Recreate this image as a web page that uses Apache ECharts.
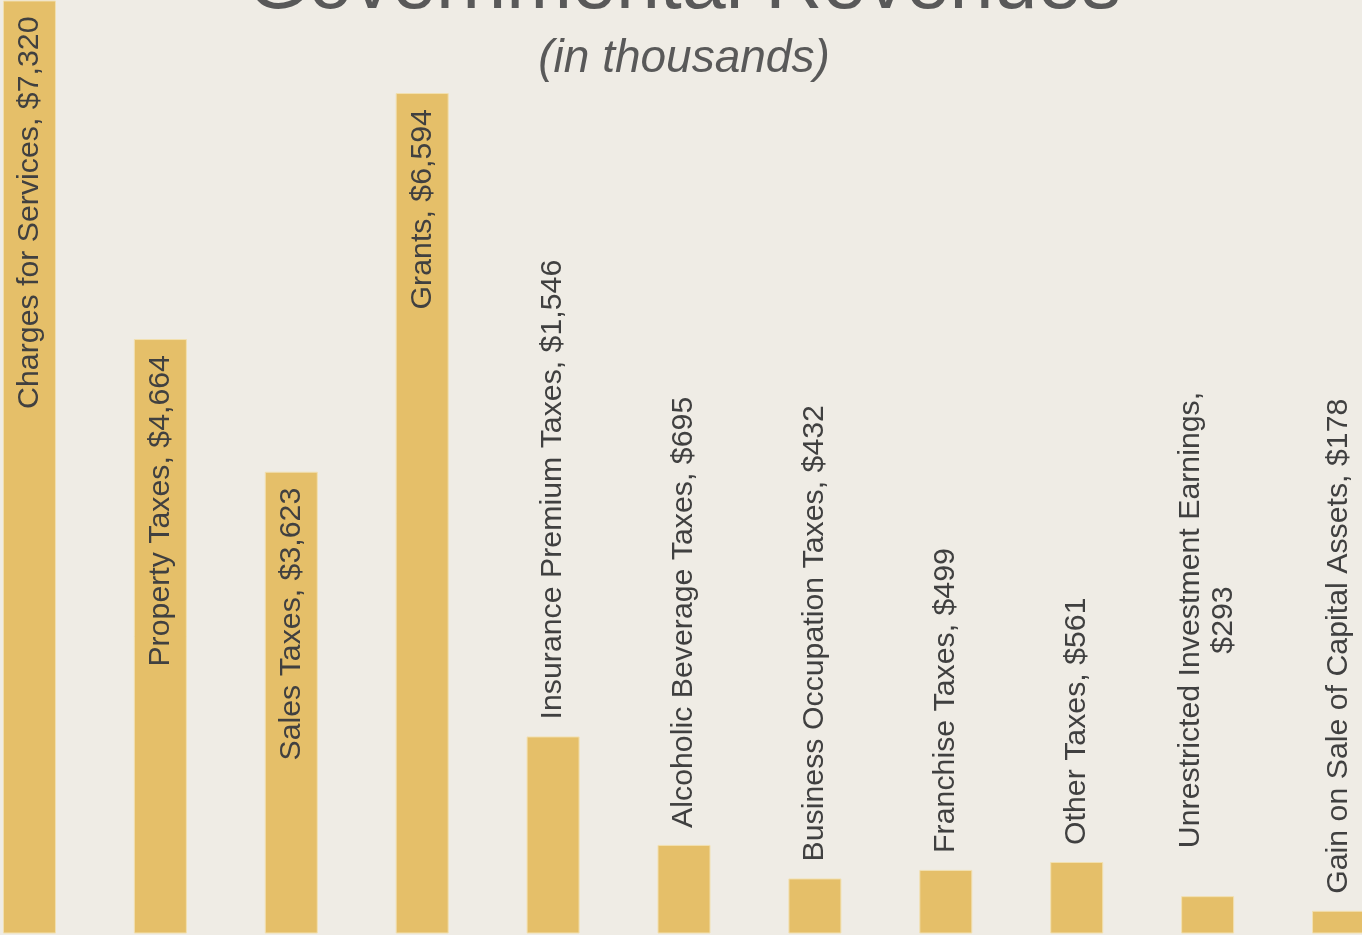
<!DOCTYPE html>
<html><head><meta charset="utf-8">
<script src="https://cdn.jsdelivr.net/npm/echarts@6/dist/echarts.min.js"></script>
<style>html,body{margin:0;padding:0;background:#EFECE5;overflow:hidden;width:1362px;height:935px;position:relative;}
#c{position:absolute;left:-36px;top:0;width:1440px;height:935px;}</style>
</head><body><div id="c"></div>
<script>
const categories = ['Charges for Services','Property Taxes','Sales Taxes','Grants','Insurance Premium Taxes','Alcoholic Beverage Taxes','Business Occupation Taxes','Franchise Taxes','Other Taxes','Unrestricted Investment Earnings','Gain on Sale of Capital Assets'];
const values = [7320, 4664, 3623, 6594, 1546, 695, 432, 499, 561, 293, 178];
const insideLabels = ['Charges for Services','Property Taxes','Sales Taxes','Grants'];
const wrappedLabels = ['Unrestricted Investment Earnings'];

function fmt(v){ return '$' + v.toLocaleString('en-US'); }
const FONT = 'Liberation Sans, Arial, sans-serif';

const data = categories.map((c, i) => {
  const v = values[i];
  let label;
  if (insideLabels.includes(c)) {
    label = {position: 'insideTop', distance: 16, rotate: 90, align: 'right', verticalAlign: 'middle',
      formatter: c + ', ' + fmt(v)};
  } else if (wrappedLabels.includes(c)) {
    label = {position: 'top', distance: 48, rotate: 90, align: 'left', verticalAlign: 'middle',
      formatter: '{a|' + c + ',}\n{a|' + fmt(v) + '}',
      rich: {a: {align: 'center', fontSize: 30.3, color: '#404040', fontFamily: FONT, lineHeight: 33}}};
  } else {
    label = {position: 'top', distance: 17, rotate: 90, align: 'left', verticalAlign: 'middle',
      formatter: c + ', ' + fmt(v)};
  }
  return {value: v, label: label};
});

const chart = echarts.init(document.getElementById('c'), null, {renderer: 'canvas'});
chart.setOption({
  backgroundColor: '#EFECE5',
  animation: false,
  title: [
    {text: 'Governmental Revenues', left: 'center', top: -58,
      textStyle: {fontSize: 79, fontWeight: 'normal', color: '#595959', fontFamily: FONT}},
    {text: '(in thousands)', left: 'center', top: 31,
      textStyle: {fontSize: 46, fontWeight: 'normal', fontStyle: 'italic', color: '#595959', fontFamily: FONT}}
  ],
  grid: {left: 0, right: 0, top: 0, bottom: 1.5, containLabel: false},
  xAxis: {type: 'category', data: categories, axisLine: {show: false}, axisTick: {show: false}, axisLabel: {show: false}},
  yAxis: {type: 'value', min: 0, max: 7324, show: false, splitLine: {show: false}},
  series: [{
    type: 'bar', data: data, barWidth: 53,
    itemStyle: {color: '#E5BF69', borderColor: '#F2E0B0', borderWidth: 1},
    label: {show: true, fontSize: 30.3, color: '#404040', fontFamily: FONT}
  }]
});
</script></body></html>
